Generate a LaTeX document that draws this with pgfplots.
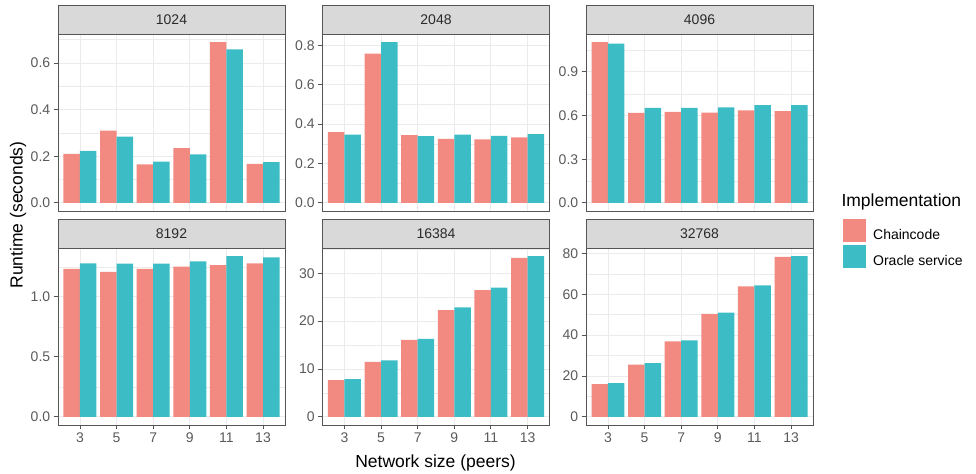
\documentclass[border=0pt]{standalone}
\usepackage{pgfplots}
\pgfplotsset{compat=1.18}
\usepackage{fontspec}
\setmainfont{Liberation Sans}
\definecolor{cc}{HTML}{F28A82}
\definecolor{os}{HTML}{3CBDC6}
\definecolor{bordergray}{HTML}{555555}
\definecolor{gridgray}{HTML}{EBEBEB}
\definecolor{stripfill}{HTML}{D9D9D9}
\definecolor{tickgray}{HTML}{5A5A5A}
\definecolor{striptext}{HTML}{2A2A2A}
\newcommand\smallf{\fontsize{14bp}{16.8bp}\selectfont}
\newcommand\bigf{\fontsize{17.5bp}{21bp}\selectfont}
\pgfplotsset{
  panel/.style={
    scale only axis, width=227bp, height=177bp, anchor=south west,
    xmin=0.4, xmax=6.6, xtick={1,2,3,4,5,6}, xticklabels={3,5,7,9,11,13},
    axis line style={color=bordergray, line width=0.9bp},
    tick style={color=bordergray, line width=0.9bp},
    tick align=outside, major tick length=4.3bp, minor tick length=0bp,
    xtick pos=bottom, ytick pos=left,
    xmajorgrids, ymajorgrids, yminorgrids,
    major grid style={color=gridgray, line width=0.9bp},
    minor grid style={color=gridgray, line width=0.45bp},
    tick label style={font=\smallf, text=tickgray},
    /pgf/number format/assume math mode=true,
    scaled y ticks=false,
    clip=false,
  },
  toprow/.style={xmajorticks=false, xticklabels={}},
  dec/.style={yticklabel style={/pgf/number format/.cd, fixed, fixed zerofill, precision=1}},
  cbar/.style={ybar, bar width=0.45, bar shift=-0.225, fill=cc, draw=none},
  obar/.style={ybar, bar width=0.45, bar shift=0.225, fill=os, draw=none},
}
\newcommand\strip[2]{%
  \draw[fill=stripfill, draw=bordergray, line width=0.9bp] (#1.north west) rectangle ([yshift=28.5bp]#1.north east);
  \node[font=\smallf, text=striptext] at ([yshift=14.25bp]#1.north) {#2};
}
\begin{document}
\begin{tikzpicture}[x=1bp,y=1bp]
\useasboundingbox (0,0) rectangle (976,474);

% 1024
\begin{axis}[panel, toprow, dec, name=p1, at={(58bp,263bp)},
  ymin=-0.0345, ymax=0.7245, ytick={0,0.2,0.4,0.6}, minor ytick={0.1,0.3,0.5,0.7}]
\addplot[cbar] coordinates {(1,0.21) (2,0.31) (3,0.165) (4,0.235) (5,0.69) (6,0.168)};
\addplot[obar] coordinates {(1,0.223) (2,0.284) (3,0.177) (4,0.208) (5,0.658) (6,0.175)};
\end{axis}
\strip{p1}{1024}

% 2048
\begin{axis}[panel, toprow, dec, name=p2, at={(322.5bp,263bp)},
  ymin=-0.0408, ymax=0.8568, ytick={0,0.2,0.4,0.6,0.8}, minor ytick={0.1,0.3,0.5,0.7}]
\addplot[cbar] coordinates {(1,0.359) (2,0.757) (3,0.344) (4,0.325) (5,0.322) (6,0.332)};
\addplot[obar] coordinates {(1,0.347) (2,0.816) (3,0.339) (4,0.347) (5,0.340) (6,0.349)};
\end{axis}
\strip{p2}{2048}

% 4096
\begin{axis}[panel, toprow, dec, name=p3, at={(586bp,263bp)},
  ymin=-0.05525, ymax=1.16025, ytick={0,0.3,0.6,0.9}, minor ytick={0.15,0.45,0.75,1.05}]
\addplot[cbar] coordinates {(1,1.105) (2,0.618) (3,0.625) (4,0.620) (5,0.636) (6,0.630)};
\addplot[obar] coordinates {(1,1.094) (2,0.652) (3,0.652) (4,0.657) (5,0.671) (6,0.671)};
\end{axis}
\strip{p3}{4096}

% 8192
\begin{axis}[panel, dec, name=p4, at={(58bp,49bp)},
  ymin=-0.067, ymax=1.406, ytick={0,0.5,1.0}, minor ytick={0.25,0.75,1.25}]
\addplot[cbar] coordinates {(1,1.233) (2,1.208) (3,1.233) (4,1.250) (5,1.264) (6,1.278)};
\addplot[obar] coordinates {(1,1.278) (2,1.275) (3,1.275) (4,1.294) (5,1.339) (6,1.328)};
\end{axis}
\strip{p4}{8192}

% 16384
\begin{axis}[panel, name=p5, at={(322.5bp,49bp)},
  ymin=-1.68, ymax=35.28, ytick={0,10,20,30}, minor ytick={5,15,25,35}]
\addplot[cbar] coordinates {(1,7.7) (2,11.5) (3,16.1) (4,22.3) (5,26.5) (6,33.2)};
\addplot[obar] coordinates {(1,7.9) (2,11.8) (3,16.3) (4,22.9) (5,27.0) (6,33.6)};
\end{axis}
\strip{p5}{16384}

% 32768
\begin{axis}[panel, name=p6, at={(586bp,49bp)},
  ymin=-3.935, ymax=82.635, ytick={0,20,40,60,80}, minor ytick={10,30,50,70},
  legend style={at={(1.132,1.164)}, anchor=north west, draw=none, fill=none,
    inner sep=0pt, outer sep=0pt, row sep=2bp, font=\smallf},
  legend cell align=left]
\addplot[cbar, forget plot] coordinates {(1,16.0) (2,25.6) (3,37.0) (4,50.4) (5,63.8) (6,78.3)};
\addplot[obar, forget plot] coordinates {(1,16.6) (2,26.3) (3,37.4) (4,51.0) (5,64.4) (6,78.7)};
\addlegendimage{legend image code/.code={\fill[cc] (0bp,-6bp) rectangle (22bp,16bp); \path[draw=none,fill=none] (0bp,0bp) rectangle (28bp,1bp);}}
\addlegendentry{Chaincode}
\addlegendimage{legend image code/.code={\fill[os] (0bp,-6bp) rectangle (22bp,16bp); \path[draw=none,fill=none] (0bp,0bp) rectangle (28bp,1bp);}}
\addlegendentry{Oracle service}
\end{axis}
\strip{p6}{32768}

\node[anchor=west, font=\bigf] at (838,272.3) {Implementation};
\node[rotate=90, font=\bigf] at (18,259) {Runtime (seconds)};
\node[anchor=base, font=\bigf] at (435.5,6.5) {Network size (peers)};
\end{tikzpicture}
\end{document}
